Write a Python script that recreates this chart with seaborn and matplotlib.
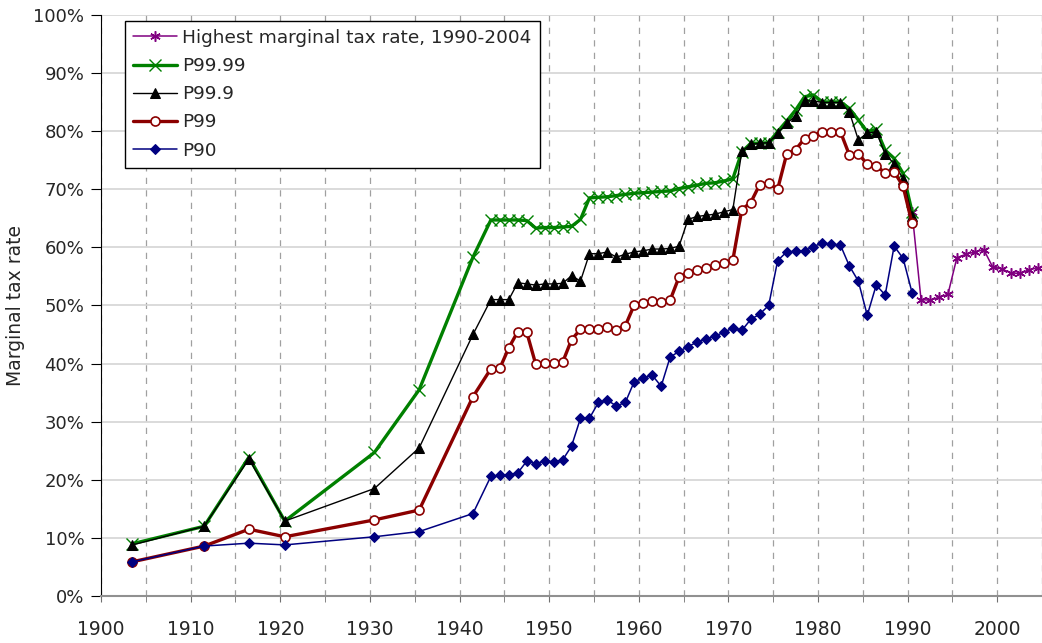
import matplotlib
matplotlib.use("Agg")
import matplotlib.pyplot as plt
from matplotlib.ticker import MultipleLocator, FuncFormatter
import seaborn as sns
import numpy as np

# data (marginal tax rate, %)
years = [1903, 1911, 1916, 1920, 1930, 1935, 1941] + list(range(1943, 1991))

p9999 = [9.0, 12.0, 23.9, 12.9, 24.7, 35.5, 58.3,
         64.7, 64.7, 64.7, 64.7, 64.6, 63.3, 63.4, 63.4, 63.5, 63.6,
         64.8, 68.5, 68.6, 68.7, 68.9, 69.1, 69.3, 69.4, 69.5, 69.6,
         69.7, 70.1, 70.4, 70.7, 71.0, 71.1, 71.4, 71.8, 76.4, 77.9,
         77.9, 78.0, 79.9, 81.7, 83.6, 85.9, 86.2, 85.0, 85.0, 85.0,
         83.9, 81.9, 79.9, 80.3, 76.7, 75.3, 72.7, 66.1]

p999 = [8.8, 12.0, 23.6, 12.9, 18.5, 25.5, 45.0,
        51.0, 51.0, 51.0, 53.9, 53.7, 53.5, 53.7, 53.7, 53.8, 55.1,
        54.2, 58.9, 58.9, 59.2, 58.3, 58.8, 59.2, 59.4, 59.7, 59.7,
        59.8, 60.2, 64.8, 65.3, 65.5, 65.7, 66.1, 66.5, 76.5, 77.7,
        77.9, 78.0, 79.6, 81.3, 82.6, 85.2, 85.2, 84.9, 84.9, 84.9,
        83.3, 78.5, 79.6, 79.9, 76.0, 74.4, 71.8, 65.4]

p99 = [5.9, 8.6, 11.5, 10.2, 13.1, 14.8, 34.3,
       39.1, 39.2, 42.7, 45.5, 45.4, 39.9, 40.1, 40.1, 40.2, 44.1,
       45.9, 45.9, 46.0, 46.3, 45.8, 46.5, 50.1, 50.5, 50.7, 50.6,
       50.9, 54.9, 55.5, 56.1, 56.5, 56.9, 57.3, 57.8, 66.5, 67.7,
       70.8, 71.0, 70.0, 76.0, 76.8, 78.7, 79.2, 79.9, 79.9, 79.9,
       75.9, 76.1, 74.3, 74.0, 72.8, 73.0, 70.5, 64.1]

p90 = [5.9, 8.6, 9.1, 8.8, 10.2, 11.1, 14.2,
       20.6, 20.8, 20.9, 21.2, 23.2, 22.8, 23.2, 23.1, 23.4, 25.8,
       30.6, 30.6, 33.3, 33.7, 32.7, 33.3, 36.9, 37.5, 38.0, 36.1,
       41.1, 42.1, 42.9, 43.7, 44.2, 44.7, 45.4, 46.1, 45.7, 47.6,
       48.5, 50.0, 57.7, 59.2, 59.3, 59.4, 60.1, 60.8, 60.5, 60.4,
       56.8, 54.2, 48.3, 53.5, 51.8, 60.2, 58.1, 52.2]

top_years = list(range(1990, 2005))
top_rate = [66.1, 51.0, 50.9, 51.4, 51.9, 58.2, 58.8, 59.2, 59.6,
            56.6, 56.3, 55.6, 55.5, 56.1, 56.5]

sns.set_style("white")
plt.rcParams['font.family'] = ['DejaVu Sans']

fig = plt.figure(figsize=(10.42, 6.43), dpi=100)
ax = fig.add_axes([0.097, 0.073, 0.903, 0.904])

# points sit in the middle of each year
x_p = np.array(years) + 0.5
x_top = np.array(top_years) + 0.5

sns.lineplot(x=x_top, y=top_rate, ax=ax, color='#800080', lw=1.1,
             marker=(6, 2, 0), markersize=7.5, markeredgewidth=1.1,
             markeredgecolor='#800080', label='Highest marginal tax rate, 1990-2004')
sns.lineplot(x=x_p, y=p9999, ax=ax, color='#008000', lw=2.4,
             marker='x', markersize=8.5, markeredgewidth=1.0,
             markeredgecolor='#008000', label='P99.99')
sns.lineplot(x=x_p, y=p999, ax=ax, color='black', lw=1.0,
             marker='^', markersize=7, markeredgecolor='black', label='P99.9')
sns.lineplot(x=x_p, y=p99, ax=ax, color='#8b0000', lw=2.4,
             marker='o', markersize=6.5, markerfacecolor='white',
             markeredgecolor='#8b0000', markeredgewidth=1.2, label='P99')
sns.lineplot(x=x_p, y=p90, ax=ax, color='#000080', lw=1.1,
             marker='D', markersize=5.5, markeredgecolor='#000080', label='P90')

ax.set_xlim(1900, 2005)
ax.set_ylim(0, 100)
ax.xaxis.set_major_locator(MultipleLocator(10))
ax.xaxis.set_minor_locator(MultipleLocator(5))
ax.yaxis.set_major_locator(MultipleLocator(10))
ax.yaxis.set_major_formatter(FuncFormatter(lambda v, p: f'{v:.0f}%'))

ax.grid(axis='y', which='major', color='#d4d4d4', lw=1.2, ls='-')
ax.grid(axis='x', which='both', color='#a0a0a0', lw=0.9, ls=(0, (5, 5)))
ax.set_axisbelow(True)

for s in ['top', 'right']:
    ax.spines[s].set_visible(False)
ax.spines['left'].set_color('black')
ax.spines['bottom'].set_color('#909090')
ax.spines['bottom'].set_linewidth(1.5)

ax.tick_params(axis='x', which='both', direction='out', length=4.5,
               color='#707070', labelsize=13.5, pad=13, bottom=True)
ax.tick_params(axis='y', direction='out', length=7, color='black',
               labelsize=13, pad=5, left=True)

ax.set_xlabel('')
ax.set_ylabel('Marginal tax rate', fontsize=13.5, labelpad=6)

leg = ax.legend(loc='upper left', bbox_to_anchor=(0.025, 0.99), borderaxespad=0,
                fontsize=13.3, frameon=True, fancybox=False, framealpha=1,
                edgecolor='black', handlelength=2.4, handletextpad=0.25,
                labelspacing=0.55, borderpad=0.45)
leg.get_frame().set_linewidth(1.0)

plt.savefig('out.png', dpi=100)
